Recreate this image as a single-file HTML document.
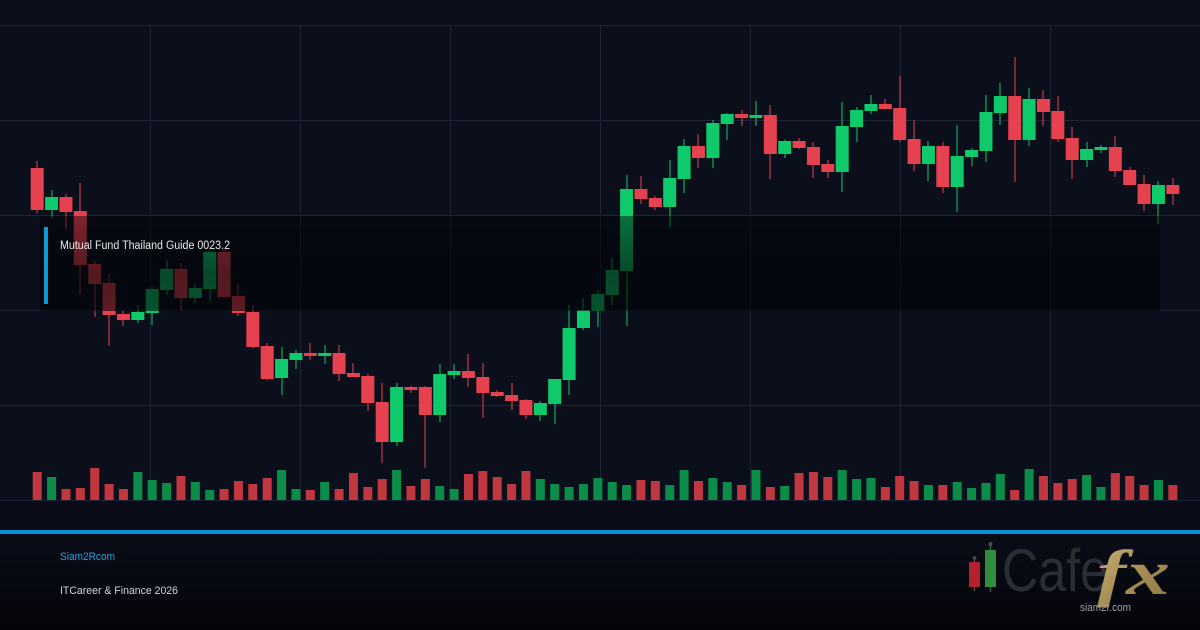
<!DOCTYPE html>
<html>
<head>
<meta charset="utf-8">
<style>
  html,body{margin:0;padding:0;background:#0b0f1c;}
  body{width:1200px;height:630px;overflow:hidden;font-family:"Liberation Sans",sans-serif;}
  svg{display:block;}
</style>
</head>
<body>
<svg id="c" width="1200" height="630" viewBox="0 0 1200 630" xmlns="http://www.w3.org/2000/svg">
  <defs>
    <linearGradient id="ov" x1="0" y1="0" x2="0" y2="1">
      <stop offset="0" stop-color="#010205" stop-opacity="0.45"/>
      <stop offset="0.6" stop-color="#010205" stop-opacity="0.64"/>
      <stop offset="1" stop-color="#010205" stop-opacity="0.6"/>
    </linearGradient>
    <linearGradient id="ft" x1="0" y1="0" x2="0" y2="1">
      <stop offset="0" stop-color="#0a0d18"/>
      <stop offset="1" stop-color="#04050a"/>
    </linearGradient>
    <linearGradient id="gold" x1="0" y1="0" x2="1" y2="1">
      <stop offset="0" stop-color="#cbb37a"/>
      <stop offset="0.5" stop-color="#a88f55"/>
      <stop offset="1" stop-color="#8c7644"/>
    </linearGradient>
  </defs>
  <rect x="0" y="0" width="1200" height="630" fill="#0b0f1c"/>
  <rect x="0" y="500" width="1200" height="30" fill="#090c17"/>
  <g id="grid" stroke="#1e2435" stroke-width="1">
    <line x1="0" y1="25.5" x2="1200" y2="25.5"/>
    <line x1="0" y1="120.5" x2="1200" y2="120.5"/>
    <line x1="0" y1="215.5" x2="1200" y2="215.5"/>
    <line x1="0" y1="310.5" x2="1200" y2="310.5"/>
    <line x1="0" y1="405.5" x2="1200" y2="405.5"/>
    <line x1="0" y1="500.5" x2="1200" y2="500.5"/>
    <line x1="150.5" y1="25" x2="150.5" y2="500"/>
    <line x1="300.5" y1="25" x2="300.5" y2="500"/>
    <line x1="450.5" y1="25" x2="450.5" y2="500"/>
    <line x1="600.5" y1="25" x2="600.5" y2="500"/>
    <line x1="750.5" y1="25" x2="750.5" y2="500"/>
    <line x1="900.5" y1="25" x2="900.5" y2="500"/>
    <line x1="1050.5" y1="25" x2="1050.5" y2="500"/>
  </g>
  <g id="vol"></g>
  <g id="cand"></g>
  <rect x="40" y="216" width="1120" height="95" fill="url(#ov)"/>
  <rect x="44" y="227" width="4" height="77" fill="#0a9ad8"/>
  <text x="60" y="249" font-family="Liberation Sans, sans-serif" font-size="11.5" fill="#e8e8ea" textLength="170" lengthAdjust="spacingAndGlyphs">Mutual Fund Thailand Guide 0023.2</text>

  <rect x="0" y="533" width="1200" height="97" fill="url(#ft)"/>
  <rect x="0" y="530" width="1200" height="4" fill="#0a8fd0"/>
  <text x="60" y="560" font-family="Liberation Sans, sans-serif" font-size="11" fill="#2b9fda" textLength="55" lengthAdjust="spacingAndGlyphs">Siam2Rcom</text>
  <text x="60" y="594" font-family="Liberation Sans, sans-serif" font-size="11" fill="#d0d4da" textLength="118" lengthAdjust="spacingAndGlyphs">ITCareer &amp; Finance 2026</text>

  <!-- logo -->
  <line x1="974.5" y1="557" x2="974.5" y2="591" stroke="#4a4d52" stroke-width="1.5"/>
  <circle cx="974.5" cy="558" r="1.8" fill="#4a4d52"/>
  <rect x="969" y="562" width="11" height="25" fill="#b3212a"/>
  <line x1="990.5" y1="542" x2="990.5" y2="592" stroke="#4a4d52" stroke-width="1.5"/>
  <circle cx="990.5" cy="544" r="2" fill="#4a4d52"/>
  <rect x="985" y="550" width="11" height="37" fill="#2f8f3f"/>
  <text x="1002" y="591" font-family="Liberation Sans, sans-serif" font-size="60" fill="#2a2d32" textLength="106" lengthAdjust="spacingAndGlyphs">Cafe</text>
  <text x="1097" y="594" font-family="Liberation Serif, serif" font-style="italic" font-weight="bold" font-size="64" fill="url(#gold)" textLength="73" lengthAdjust="spacingAndGlyphs">fx</text>
  <text x="1080" y="611" font-family="Liberation Sans, sans-serif" font-size="11" fill="#9da1a8" textLength="51" lengthAdjust="spacingAndGlyphs">siam2r.com</text>
</svg>
<script>
(function(){
  var D=[
  [161,168,210,213,0],[190,197,210,218,1],[194,197,212,229,0],[183,211,265,294,0],[261,264,284,317,0],
  [274,283,315,346,0],[310,314,320,326,0],[305,312,320,323,1],[287,289,313,325,1],[260,269,290,295,1],
  [263,269,298,311,0],[284,288,298,303,1],[250,252,289,301,1],[250,252,297,298,0],[284,296,313,316,0],
  [305,312,347,348,0],[343,346,379,380,0],[347,359,378,395,1],[350,353,360,369,1],[343,353,356,360,0],
  [345,353,356,364,1],[345,353,374,381,0],[363,373,377,377,0],[374,376,403,411,0],[383,402,442,463,0],
  [383,387,442,446,1],[386,387,390,393,0],[386,387,415,468,0],[364,374,415,422,1],[364,371,375,379,1],
  [354,371,378,387,0],[363,377,393,418,0],[390,392,396,397,0],[383,395,401,410,0],[399,400,415,419,0],
  [401,403,415,421,1],[379,379,404,424,1],[305,328,380,395,1],[298,310,328,330,1],[290,294,311,327,1],
  [258,270,295,305,1],[175,189,271,326,1],[176,189,199,204,0],[196,198,207,210,0],[160,178,207,227,1],
  [139,146,179,193,1],[134,146,158,168,0],[120,123,158,168,1],[113,114,124,140,1],[110,114,118,126,0],
  [101,115,118,126,1],[105,115,154,179,0],[140,141,154,158,1],[138,141,148,149,0],[142,147,165,178,0],
  [160,164,172,178,0],[102,126,172,192,1],[107,110,127,142,1],[95,104,111,114,1],[99,104,109,110,0],
  [76,108,140,142,0],[120,139,164,171,0],[141,146,164,181,1],[142,146,187,193,0],[125,156,187,212,1],
  [148,150,157,166,1],[95,112,151,162,1],[83,96,113,125,1],[57,96,140,182,0],[88,99,140,146,1],
  [90,99,112,126,0],[96,111,139,142,0],[127,138,160,179,0],[142,149,160,167,1],[145,147,150,153,1],
  [136,147,171,177,0],[167,170,185,185,0],[175,184,204,211,0],[181,185,204,224,1],[178,185,194,205,0]];
  var V=[472,477,489,488,468,484,489,472,480,483,476,482,490,489,481,484,478,470,489,490,
  482,489,473,487,479,470,486,479,486,489,474,471,477,484,471,479,484,487,484,478,
  482,485,480,481,485,470,481,478,482,485,470,487,486,473,472,477,470,479,478,487,
  476,481,485,485,482,488,483,474,490,469,476,483,479,475,487,473,476,485,480,485];
  var ns="http://www.w3.org/2000/svg";
  var gc=document.getElementById("cand"), gv=document.getElementById("vol");
  function el(p,n,a){var e=document.createElementNS(ns,n);for(var k in a)e.setAttribute(k,a[k]);p.appendChild(e);return e;}
  for(var i=0;i<80;i++){
    var cx=37.2+14.375*i, d=D[i];
    var col=d[4]?"#0fca6b":"#e5414f";
    var vcol=d[4]?"#0b8d49":"#c0373f";
    var xr=Math.round(cx);
    el(gv,"rect",{x:(cx-4.5).toFixed(2),y:V[i],width:9,height:500-V[i],fill:vcol});
    el(gc,"rect",{x:(xr-0.5),y:d[0],width:1,height:Math.max(1,d[3]-d[0]),fill:col});
    el(gc,"rect",{x:(cx-6.5).toFixed(2),y:d[1],width:13,height:Math.max(2,d[2]-d[1]),fill:col});
  }
})();
</script>
</body>
</html>
